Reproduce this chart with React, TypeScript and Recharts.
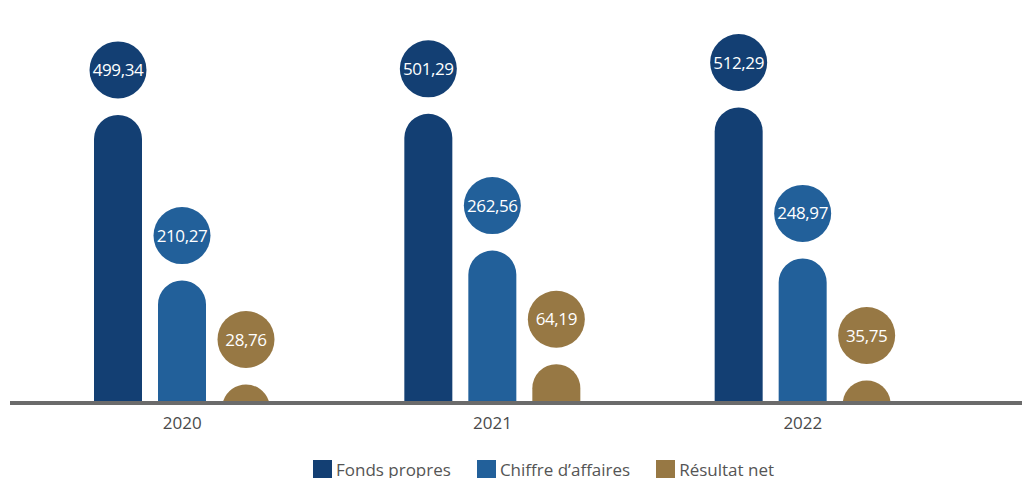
import { Bar, BarChart, LabelList, Legend, XAxis, YAxis } from "recharts";

const YEARS = ["2020", "2021", "2022"];
const FONDS_PROPRES = [499.34, 501.29, 512.29];
const CHIFFRE_AFFAIRES = [210.27, 262.56, 248.97];
const RESULTAT_NET = [28.76, 64.19, 35.75];

const SERIES = [
  { key: "fonds", name: "Fonds propres", color: "#133F73" },
  { key: "ca", name: "Chiffre d\u2019affaires", color: "#22609A" },
  { key: "resultat", name: "Résultat net", color: "#977844" },
];

const data = YEARS.map((year, i) => ({
  year,
  fonds: FONDS_PROPRES[i],
  ca: CHIFFRE_AFFAIRES[i],
  resultat: RESULTAT_NET[i],
}));

const FONT = "'Open Sans', 'Noto Sans', sans-serif";
const fmt = (v: number) => v.toFixed(2).replace(".", ",");

// bar with a fully rounded top; short bars become a dome cut by the baseline
function PillBar(props: any) {
  const { x, y, width, height, fill } = props;
  if (!height || height <= 0) return null;
  const r = width / 2;
  const cx = x + r;
  const yb = y + height;
  if (height < r) {
    const hc = Math.sqrt(r * r - (r - height) * (r - height));
    return (
      <path
        d={`M${cx - hc},${yb} A${r},${r} 0 0 1 ${cx + hc},${yb} Z`}
        fill={fill}
      />
    );
  }
  return (
    <path
      d={`M${x},${yb} L${x},${y + r} A${r},${r} 0 0 1 ${x + width},${y + r} L${x + width},${yb} Z`}
      fill={fill}
    />
  );
}

function bubble(color: string) {
  return (props: any) => {
    const { x, y, width, value } = props;
    const cx = x + width / 2;
    const cy = y - 45;
    return (
      <g>
        <circle cx={cx} cy={cy} r={28.5} fill={color} />
        <text
          x={cx}
          y={cy}
          dy="0.36em"
          textAnchor="middle"
          fill="#fff"
          fontFamily={FONT}
          fontSize={17}
          fontWeight={500}
          letterSpacing={-0.4}
        >
          {fmt(value)}
        </text>
      </g>
    );
  };
}

function LegendContent() {
  return (
    <div
      style={{
        height: 37,
        paddingTop: 18,
        boxSizing: "border-box",
        display: "flex",
        justifyContent: "center",
        gap: 26,
        fontFamily: FONT,
        fontSize: 17,
        color: "#555",
        marginLeft: 102,
      }}
    >
      {SERIES.map((s) => (
        <div key={s.key} style={{ display: "flex", alignItems: "flex-start" }}>
          <span
            style={{
              width: 19,
              height: 19,
              background: s.color,
              display: "inline-block",
              marginRight: 4,
              marginTop: 1,
            }}
          />
          <span style={{ lineHeight: "22px" }}>{s.name}</span>
        </div>
      ))}
    </div>
  );
}

export default function App() {
  return (
    <div style={{ position: "absolute", left: 0, top: 0, width: 1022, height: 478, background: "#fff" }}>
      <BarChart
        width={1022}
        height={478}
        data={data}
        margin={{ top: 0, right: 64, bottom: 0, left: 27 }}
        barCategoryGap={67}
        barGap={16}
      >
        <XAxis
          dataKey="year"
          axisLine={false}
          tickLine={false}
          height={40}
          tick={{ fill: "#4a4a4a", fontSize: 17, fontFamily: FONT }}
          tickMargin={10}
        />
        <YAxis hide domain={[0, 700]} />
        <Legend verticalAlign="bottom" content={<LegendContent />} />
        {SERIES.map((s) => (
          <Bar
            key={s.key}
            dataKey={s.key}
            name={s.name}
            fill={s.color}
            barSize={48}
            shape={<PillBar />}
            isAnimationActive={false}
          >
            <LabelList dataKey={s.key} content={bubble(s.color)} />
          </Bar>
        ))}
      </BarChart>
      <div
        style={{
          position: "absolute",
          left: 10,
          top: 401,
          width: 1012,
          height: 4,
          background: "#6b6b6b",
        }}
      />
    </div>
  );
}
